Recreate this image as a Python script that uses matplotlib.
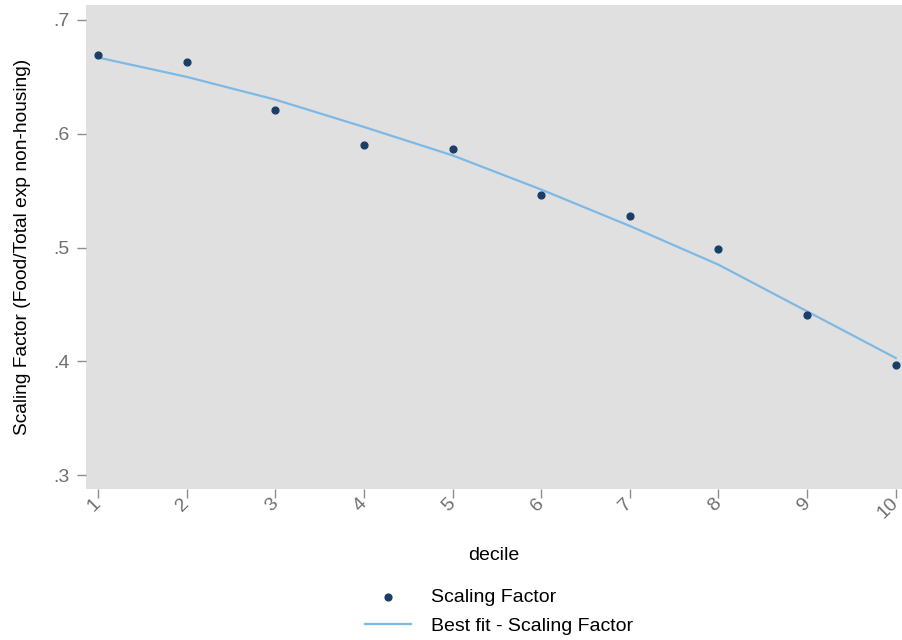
import matplotlib.pyplot as plt
from matplotlib.ticker import FuncFormatter

# Data
deciles = [1, 2, 3, 4, 5, 6, 7, 8, 9, 10]
scaling_factor = [0.669, 0.663, 0.621, 0.590, 0.587, 0.546, 0.528, 0.499, 0.441, 0.397]
best_fit = [0.667, 0.650, 0.630, 0.606, 0.581, 0.551, 0.519, 0.485, 0.444, 0.403]
yticks = [0.3, 0.4, 0.5, 0.6, 0.7]

plt.rcParams['font.family'] = ['Liberation Sans', 'DejaVu Sans']

fig = plt.figure(figsize=(9.02, 6.4), dpi=100)
ax = fig.add_axes([0.0953, 0.236, 0.9047, 0.756])
ax.set_facecolor('#e0e0e0')

ax.plot(deciles, best_fit, color='#7eb9e6', linewidth=1.6, label='Best fit - Scaling Factor', zorder=2)
ax.scatter(deciles, scaling_factor, color='#1a3f66', s=24, label='Scaling Factor', zorder=3)

ax.set_xlim(0.865, 10.07)
ax.set_ylim(0.288, 0.713)
ax.set_xticks(deciles)
ax.set_yticks(yticks)
ax.yaxis.set_major_formatter(FuncFormatter(lambda v, p: ('%.1f' % v).lstrip('0')))

for s in ax.spines.values():
    s.set_visible(False)
ax.tick_params(axis='both', colors='#8c8c8c', labelcolor='#707070', labelsize=14, length=6.5, width=1)
ax.tick_params(axis='y', pad=5)
ax.tick_params(axis='x', pad=2)
for lbl in ax.get_xticklabels():
    lbl.set_rotation(45)
    lbl.set_ha('right')
    lbl.set_va('center')
    lbl.set_rotation_mode('anchor')

ax.set_xlabel('decile', fontsize=14, labelpad=18)
ax.set_ylabel('Scaling Factor (Food/Total exp non-housing)', fontsize=13.8, labelpad=16)

handles, labels = ax.get_legend_handles_labels()
fig.legend([handles[1], handles[0]], [labels[1], labels[0]], loc='upper center',
           bbox_to_anchor=(0.553, 0.108), frameon=False, fontsize=14, handlelength=2.4,
           handletextpad=1.0, labelspacing=0.6)

fig.savefig('out.png', dpi=100)
